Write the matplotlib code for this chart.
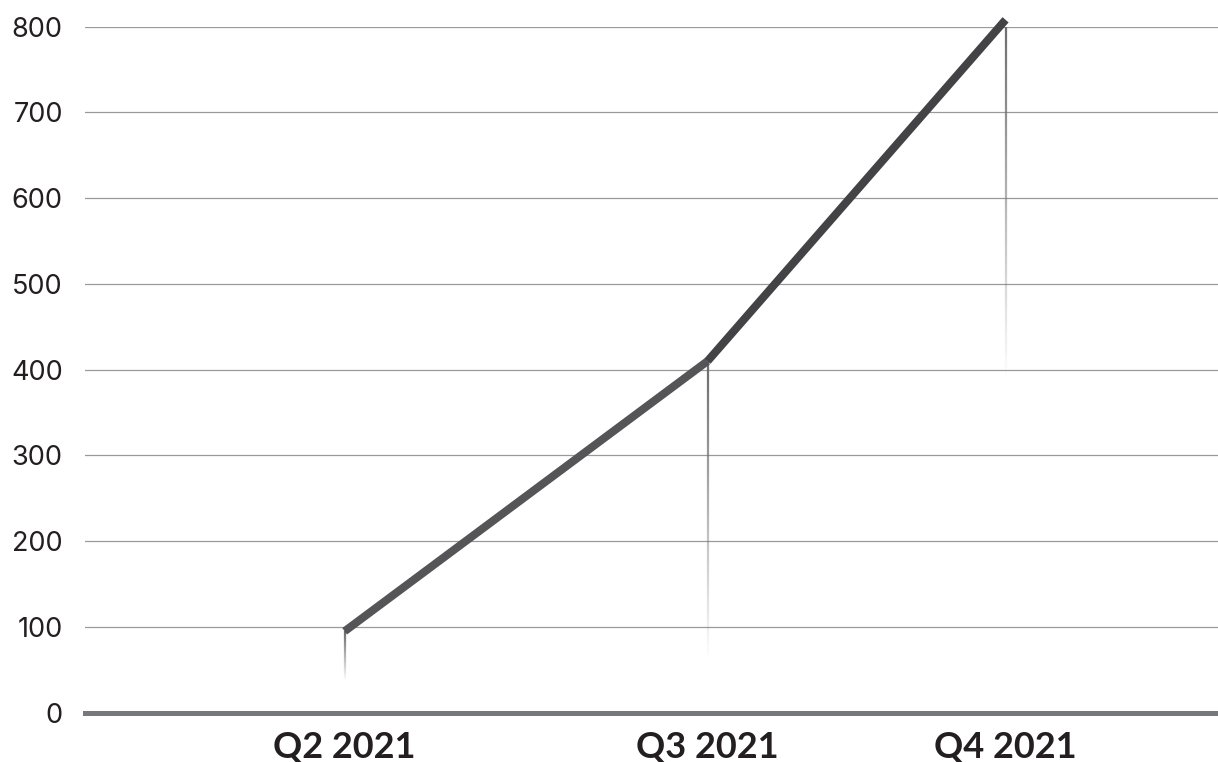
import matplotlib
matplotlib.use("Agg")
import matplotlib.pyplot as plt
import matplotlib.dates as mdates
from matplotlib.collections import LineCollection
import numpy as np
import pandas as pd

# quarterly values
quarters = ["Q2 2021", "Q3 2021", "Q4 2021"]
dates = pd.to_datetime(["2021-05-15", "2021-09-15", "2021-12-25"])
values = [95, 410, 808]
# where each faded drop line ends
drop_ends = [37, 60, 388]
seg_colors = ["#555557", "#434345"]
y_ticks = [0, 100, 200, 300, 400, 500, 600, 700, 800]

plt.rcParams['font.family'] = ['Lato', 'DejaVu Sans']

fig = plt.figure(figsize=(12.18, 7.62), dpi=100)
ax = fig.add_axes([85 / 1218, 0.0647, 1 - 85 / 1218, 0.9003])

xd = mdates.date2num(dates)

# gridlines
for t in y_ticks[1:]:
    ax.axhline(t, color="#9a9a9a", lw=0.9, zorder=1)
ax.axhline(0, color="#77787b", lw=3.6, zorder=2, clip_on=False)

# faded drop lines
for x, top, bot in zip(xd, values, drop_ends):
    ys = np.linspace(top, bot, 60)
    segs = [[(x, ys[i]), (x, ys[i + 1])] for i in range(len(ys) - 1)]
    alphas = np.linspace(1, 0, len(segs))
    cols = [(0.42, 0.42, 0.44, a) for a in alphas]
    ax.add_collection(LineCollection(segs, colors=cols, linewidths=1.6, zorder=3))

# main line, one segment per interval
for i in range(len(values) - 1):
    ax.plot(xd[i:i + 2], values[i:i + 2], color=seg_colors[i], lw=5.8,
            solid_capstyle="butt", zorder=4, clip_on=False)

ax.set_xlim(mdates.date2num(pd.Timestamp("2021-02-16")),
            mdates.date2num(pd.Timestamp("2022-03-07")))
ax.set_ylim(0, 800)

ax.set_xticks(xd)
ax.set_xticklabels(quarters, fontsize=26, fontweight="bold", color="#231f20")
ax.set_yticks(y_ticks)
ax.set_yticklabels([str(t) for t in y_ticks], fontsize=19.5, color="#231f20",
                   family=["Inter", "DejaVu Sans"])
ax.tick_params(axis="both", length=0)
ax.tick_params(axis="y", pad=16)
ax.tick_params(axis="x", pad=13)

for s in ax.spines.values():
    s.set_visible(False)

fig.savefig("out.png", dpi=100)
